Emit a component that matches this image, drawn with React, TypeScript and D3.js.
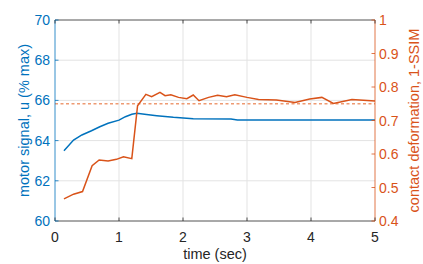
import React from "react";
import * as d3 from "d3";

const motorT = [0.14, 0.29, 0.42, 0.57, 0.7, 0.83, 1.0, 1.1, 1.2, 1.28, 1.43, 1.59, 1.85, 2.16, 2.75, 2.85, 5.0];
const motorU = [63.5, 64.03, 64.28, 64.49, 64.69, 64.86, 65.02, 65.19, 65.31, 65.36, 65.3, 65.24, 65.16, 65.09, 65.07, 65.02, 65.02];

const defT = [0.14, 0.29, 0.43, 0.58, 0.69, 0.83, 0.96, 1.07, 1.2, 1.29, 1.42, 1.51, 1.64, 1.72, 1.81, 1.93, 2.06, 2.16, 2.25, 2.4, 2.54, 2.68, 2.81, 3.0, 3.18, 3.46, 3.75, 3.98, 4.17, 4.35, 4.64, 5.0];
const defV = [0.466, 0.48, 0.488, 0.565, 0.582, 0.579, 0.584, 0.592, 0.586, 0.744, 0.778, 0.771, 0.784, 0.774, 0.777, 0.769, 0.765, 0.776, 0.759, 0.769, 0.775, 0.771, 0.777, 0.769, 0.763, 0.761, 0.754, 0.764, 0.769, 0.751, 0.763, 0.758];

const refLevel = 0.75;

const xTicks = [0, 1, 2, 3, 4, 5];
const leftTicks = [60, 62, 64, 66, 68, 70];
const rightTicks = [0.4, 0.5, 0.6, 0.7, 0.8, 0.9, 1];

const W = 423, H = 264;
const L = 55, R = 375, T = 20, B = 221;
const BLUE = "#0072BD", ORANGE = "#D95319", DARK = "#262626";

export default function App() {
  const x = d3.scaleLinear().domain([0, 5]).range([L, R]);
  const yL = d3.scaleLinear().domain([60, 70]).range([B, T]);
  const yR = d3.scaleLinear().domain([0.4, 1]).range([B, T]);
  const motorLine = d3.line<number>().x((_, i) => x(motorT[i])).y((d) => yL(d))(motorU) || "";
  const defLine = d3.line<number>().x((_, i) => x(defT[i])).y((d) => yR(d))(defV) || "";
  const font = "'Liberation Sans', Arial, sans-serif";
  const tk = 3.5;
  const fs = 14;
  const lfs = 14.5;
  return (
    <svg width={W} height={H} style={{ position: "absolute", left: 0, top: 0, background: "#fff" }} fontFamily={font}>
      <rect x={0} y={0} width={W} height={H} fill="#fff" />
      {xTicks.slice(1, -1).map((t) => (
        <line key={"gx" + t} x1={x(t)} x2={x(t)} y1={T} y2={B} stroke="#e3e3e3" strokeWidth={1} />
      ))}
      {leftTicks.slice(1, -1).map((t) => (
        <line key={"gy" + t} x1={L} x2={R} y1={yL(t)} y2={yL(t)} stroke="#e3e3e3" strokeWidth={1} />
      ))}
      <line x1={L} x2={R} y1={yR(refLevel)} y2={yR(refLevel)} stroke="#EE9A72" strokeWidth={1.4} strokeDasharray="3,2.5" />
      <path d={motorLine} fill="none" stroke={BLUE} strokeWidth={1.5} />
      <path d={defLine} fill="none" stroke={ORANGE} strokeWidth={1.5} />
      <line x1={L} x2={R} y1={T} y2={T} stroke={DARK} strokeWidth={0.8} />
      <line x1={L} x2={R} y1={B} y2={B} stroke={DARK} strokeWidth={0.8} />
      <line x1={L} x2={L} y1={T} y2={B} stroke={BLUE} strokeWidth={0.8} />
      <line x1={R} x2={R} y1={T} y2={B} stroke={ORANGE} strokeWidth={0.8} />
      {xTicks.map((t) => (
        <g key={"xt" + t}>
          <line x1={x(t)} x2={x(t)} y1={B} y2={B - tk} stroke={DARK} strokeWidth={0.8} />
          <line x1={x(t)} x2={x(t)} y1={T} y2={T + tk} stroke={DARK} strokeWidth={0.8} />
          <text x={x(t)} y={241.5} textAnchor="middle" fontSize={fs} fill={DARK}>{t}</text>
        </g>
      ))}
      {leftTicks.map((t) => (
        <g key={"lt" + t}>
          <line x1={L} x2={L + tk} y1={yL(t)} y2={yL(t)} stroke={BLUE} strokeWidth={0.8} />
          <text x={50} y={yL(t) + 5} textAnchor="end" fontSize={fs} fill={BLUE}>{t}</text>
        </g>
      ))}
      {rightTicks.map((t) => (
        <g key={"rt" + t}>
          <line x1={R} x2={R - tk} y1={yR(t)} y2={yR(t)} stroke={ORANGE} strokeWidth={0.8} />
          <text x={379} y={yR(t) + 5} textAnchor="start" fontSize={fs} fill={ORANGE}>{t}</text>
        </g>
      ))}
      <text x={(L + R) / 2} y={259} textAnchor="middle" fontSize={lfs} fill={DARK}>time (sec)</text>
      <text transform={`translate(28.5,${(T + B) / 2}) rotate(-90)`} textAnchor="middle" fontSize={lfs} fill={BLUE}>motor signal, u (% max)</text>
      <text transform={`translate(419,${(T + B) / 2}) rotate(-90)`} textAnchor="middle" fontSize={lfs} fill={ORANGE}>contact deformation, 1-SSIM</text>
    </svg>
  );
}
